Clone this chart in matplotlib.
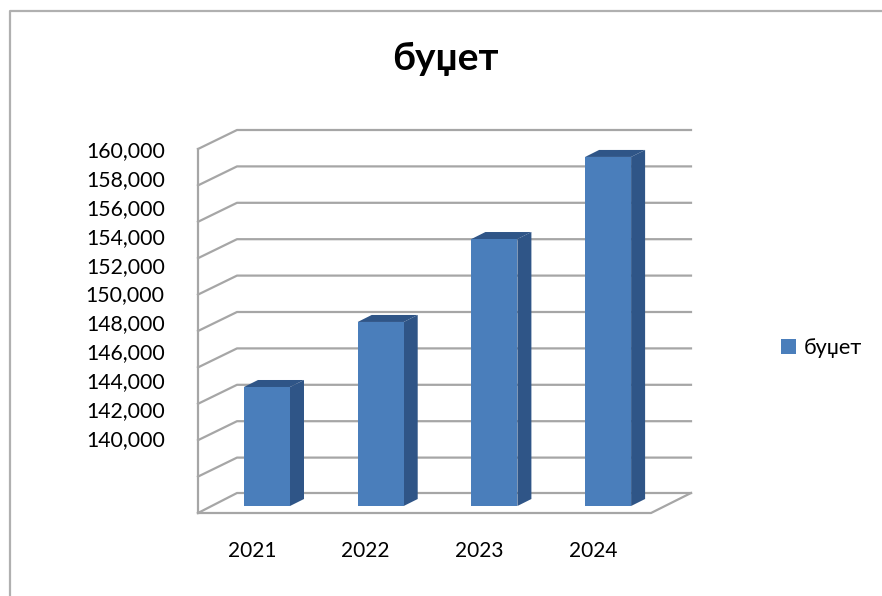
import matplotlib
matplotlib.use('Agg')
import matplotlib.pyplot as plt
from matplotlib.patches import Polygon
from matplotlib.transforms import ScaledTranslation

plt.rcParams['font.family'] = ['Lato', 'Open Sans', 'DejaVu Sans']

########################################
# DATA

years = ['2021', '2022', '2023', '2024']
budget = [143530, 148030, 153770, 159450]
tick_values = [140000, 142000, 144000, 146000, 148000, 150000,
               152000, 154000, 156000, 158000, 160000]
series_name = 'буџет'

########################################
# LAYOUT (pixels of the 882x596 picture)

W, H = 882, 596
wall_x, back_x, right_x = 198, 237, 691
front_top, front_bottom = 149, 513
back_top, back_bottom = 130, 493
n_grid = 10

slot_px = 113.7          # distance between bars
first_bar_px = 267       # centre of first bar
bar_w_px = 46
depth_x, depth_y = 14, 7
base_px = 506            # bar foot
px_per_unit = 28.9 / 2000
zero_tick_px = 438       # where 140,000 sits


def px_to_value(y):
    return 140000 + (zero_tick_px - y) / px_per_unit


def px_to_slot(x):
    return (x - first_bar_px) / slot_px


GRID = '#a6a6a6'
FRONT = '#4a7ebb'
SIDE = '#2f5587'
TOP = '#2f5587'

fig = plt.figure(figsize=(W / 100, H / 100), dpi=100, facecolor='white')

########################################
# WALLS AND FRAME, drawn in picture pixels

bg = fig.add_axes([0, 0, 1, 1])
bg.set_xlim(0, W)
bg.set_ylim(H, 0)
bg.axis('off')

bg.plot([10, 10, W], [H, 11, 11], color='#b0b0b0', lw=1.6)

step = (front_bottom - front_top) / n_grid
for i in range(n_grid + 1):
    yf = front_top + i * step
    yb = back_top + i * step
    if i == n_grid:
        bg.plot([wall_x, back_x, right_x], [yf, back_bottom, back_bottom], color=GRID, lw=1.6)
    else:
        bg.plot([wall_x, back_x, right_x], [yf, yb, yb], color=GRID, lw=1.6)
bg.plot([wall_x, wall_x], [front_top, front_bottom], color=GRID, lw=1.6)
bg.plot([wall_x, 651, right_x], [front_bottom, front_bottom, back_bottom], color=GRID, lw=1.6)

########################################
# BARS

ax = fig.add_axes([wall_x / W, 1 - front_bottom / H, (right_x - wall_x) / W, (front_bottom - back_top) / H])
ax.patch.set_alpha(0)
ax.set_xlim(px_to_slot(wall_x), px_to_slot(right_x))
ax.set_ylim(px_to_value(front_bottom), px_to_value(back_top))

base = px_to_value(base_px)
bar_w = bar_w_px / slot_px
dx = depth_x / slot_px
dy = depth_y / px_per_unit

for i, v in enumerate(budget):
    left, right = i - bar_w / 2, i + bar_w / 2
    ax.add_patch(Polygon([(right, base), (right + dx, base + dy), (right + dx, v + dy), (right, v)],
                         facecolor=SIDE, edgecolor='none', zorder=3))
    ax.add_patch(Polygon([(left, v), (left + dx, v + dy), (right + dx, v + dy), (right, v)],
                         facecolor=TOP, edgecolor='none', zorder=3))
ax.bar(range(len(budget)), [v - base for v in budget], bottom=base, width=bar_w,
       color=FRONT, zorder=4, label=series_name)

for s in ax.spines.values():
    s.set_visible(False)

ax.set_yticks(tick_values)
ax.set_yticklabels([f'{v:,}' for v in tick_values])
ax.tick_params(axis='y', length=0, pad=24, labelsize=15.3, labelcolor='black')

ax.set_xticks(range(len(years)))
ax.set_xticklabels(years)
ax.tick_params(axis='x', length=0, pad=20, labelsize=15)
shift = ScaledTranslation(-15 / 100, 0, fig.dpi_scale_trans)
for lab in ax.get_xticklabels():
    lab.set_transform(lab.get_transform() + shift)

fig.text(445 / W, 1 - 58 / H, series_name, ha='center', va='center',
         fontsize=28, fontweight='bold', color='black')

ax.legend(loc='center left', bbox_to_anchor=(781 / W, 1 - 348 / H),
          bbox_transform=fig.transFigure, frameon=False, fontsize=15.6,
          handlelength=0.7, handleheight=0.7, handletextpad=0.35, borderpad=0, borderaxespad=0)

fig.savefig('out.png', dpi=100)
